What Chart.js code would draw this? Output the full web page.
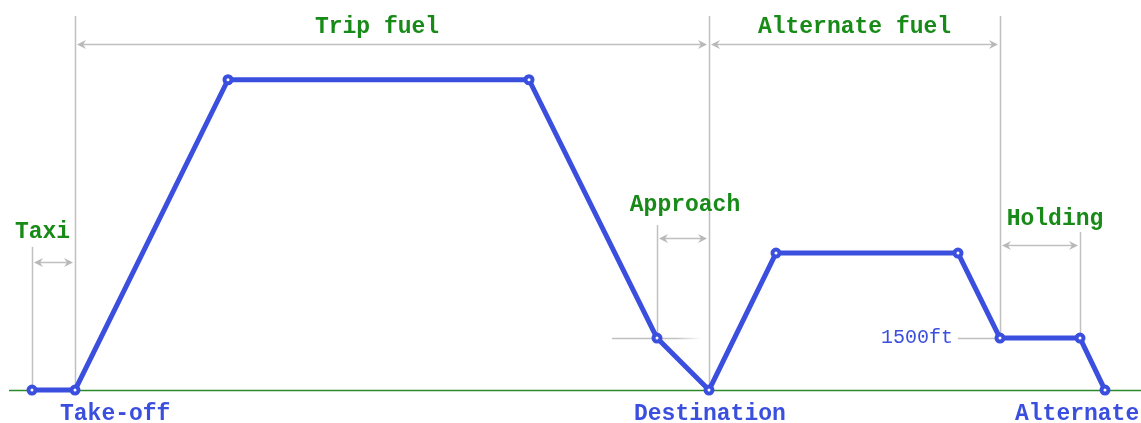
<!DOCTYPE html>
<html>
<head>
<meta charset="utf-8">
<script src="https://cdn.jsdelivr.net/npm/chart.js@4"></script>
<style>
  html, body { margin: 0; padding: 0; background: #fff; }
  #wrap { width: 1141px; height: 423px; position: relative; }
</style>
</head>
<body>
<div id="wrap"><canvas id="profile"></canvas></div>
<script>
// flight profile, distance (nm) vs altitude (ft)
const phases = ['Taxi start', 'Take-off', 'Top of climb', 'Top of descent', 'Approach', 'Destination',
  'Alt top of climb', 'Alt top of descent', 'Holding start', 'Holding end', 'Alternate']
const distNm = [16, 37.5, 114, 264.5, 328.5, 354.5, 388, 479, 500, 540, 552.5]
const altitudeFt = [0, 0, 8950, 8950, 1500, 0, 3950, 3950, 1500, 1500, 0]

// vertical guide lines: point index, top altitude
const guideIdx = [0, 1, 4, 5, 8, 9]
const guideTop = [4130, 10790, 4760, 10790, 10790, 4560]

// spans with arrows: label, from index, to index, arrow altitude
const spanLabels = ['Taxi', 'Trip fuel', 'Approach', 'Alternate fuel', 'Holding']
const spanFrom = [0, 1, 4, 5, 8]
const spanTo = [1, 5, 5, 8, 9]
const spanLevel = [3690, 9980, 4385, 9980, 4185]

// ground labels under the profile
const groundLabels = ['Take-off', 'Destination', 'Alternate']
const groundIdx = [1, 5, 10]

const BLUE = '#3b4fdf'
const GREEN = '#178a17'
const GRAY = '#c0c0c0'

function arrowHead(ctx, x, y, dir) {
  // dir = -1 points left, 1 points right
  ctx.beginPath()
  ctx.moveTo(x, y)
  ctx.lineTo(x - dir * 9, y - 4.5)
  ctx.lineTo(x - dir * 6, y)
  ctx.lineTo(x - dir * 9, y + 4.5)
  ctx.closePath()
  ctx.fill()
}

const extras = {
  id: 'extras',
  beforeDatasetsDraw(chart) {
    const { ctx, scales: { x, y } } = chart
    const px = i => x.getPixelForValue(distNm[i])
    const py = v => y.getPixelForValue(v)
    const y0 = Math.round(py(0)) + 0.5
    ctx.save()

    // ground line
    ctx.strokeStyle = '#2a8a2a'
    ctx.lineWidth = 1.5
    ctx.beginPath()
    ctx.moveTo(9, y0)
    ctx.lineTo(chart.width, y0)
    ctx.stroke()

    // guides
    ctx.strokeStyle = GRAY
    ctx.lineWidth = 1.5
    guideIdx.forEach((idx, k) => {
      const gx = Math.round(px(idx)) + 0.5
      ctx.beginPath()
      ctx.moveTo(gx, py(guideTop[k]))
      ctx.lineTo(gx, py(altitudeFt[idx]))
      ctx.stroke()
    })

    // spans
    ctx.fillStyle = '#b8b8b8'
    spanLabels.forEach((lbl, k) => {
      const x1 = px(spanFrom[k]) + 2
      const x2 = px(spanTo[k]) - 2
      const ly = Math.round(py(spanLevel[k])) + 0.5
      ctx.strokeStyle = GRAY
      ctx.lineWidth = 1.5
      ctx.beginPath()
      ctx.moveTo(x1 + 3, ly)
      ctx.lineTo(x2 - 3, ly)
      ctx.stroke()
      arrowHead(ctx, x1, ly, -1)
      arrowHead(ctx, x2, ly, 1)
    })

    // altitude reference ticks
    const ax = px(4), ay = Math.round(py(altitudeFt[4])) + 0.5
    const grad = ctx.createLinearGradient(ax + 20, 0, ax + 44, 0)
    grad.addColorStop(0, GRAY)
    grad.addColorStop(1, 'rgba(192,192,192,0)')
    ctx.strokeStyle = GRAY
    ctx.beginPath(); ctx.moveTo(ax - 45, ay); ctx.lineTo(ax + 20, ay); ctx.stroke()
    ctx.strokeStyle = grad
    ctx.beginPath(); ctx.moveTo(ax + 20, ay); ctx.lineTo(ax + 44, ay); ctx.stroke()
    const hx = px(8), hy = Math.round(py(altitudeFt[8])) + 0.5
    ctx.strokeStyle = GRAY
    ctx.beginPath(); ctx.moveTo(hx - 42, hy); ctx.lineTo(hx, hy); ctx.stroke()
    ctx.restore()
  },
  afterDatasetsDraw(chart) {
    const { ctx, scales: { x, y } } = chart
    const px = i => x.getPixelForValue(distNm[i])
    const py = v => y.getPixelForValue(v)
    ctx.save()
    ctx.textBaseline = 'middle'
    ctx.textAlign = 'center'
    ctx.font = 'bold 23px "Liberation Mono", "Courier New", monospace'
    ctx.fillStyle = GREEN
    const lift = [30, 17, 33, 17, 26]
    const nudge = [-11, -15, 2, 0, 15]
    spanLabels.forEach((lbl, k) => {
      const cx = (px(spanFrom[k]) + px(spanTo[k])) / 2 + nudge[k]
      ctx.fillText(lbl, cx, py(spanLevel[k]) - lift[k])
    })

    ctx.fillStyle = BLUE
    ctx.textAlign = 'left'
    const shift = [-15, -75, -90]
    groundLabels.forEach((lbl, k) => {
      ctx.fillText(lbl, px(groundIdx[k]) + shift[k], py(0) + 24)
    })

    ctx.font = '20px "Liberation Mono", "Courier New", monospace'
    ctx.textAlign = 'right'
    ctx.fillText('1500ft', px(8) - 47, py(1500))
    ctx.restore()
  }
}

new Chart(document.getElementById('profile'), {
  type: 'line',
  data: {
    labels: phases,
    datasets: [{
      data: distNm.map((d, i) => ({ x: d, y: altitudeFt[i] })),
      borderColor: BLUE,
      borderWidth: 5,
      borderJoinStyle: 'round',
      pointRadius: 3.5,
      pointBorderWidth: 4,
      pointBorderColor: BLUE,
      pointBackgroundColor: '#fff',
      tension: 0,
      clip: false
    }]
  },
  options: {
    responsive: true,
    maintainAspectRatio: false,
    animation: false,
    layout: { padding: 0, autoPadding: false },
    plugins: { legend: { display: false }, tooltip: { enabled: false } },
    scales: {
      x: { type: 'linear', min: 0, max: 570.5, display: false },
      y: { min: -950, max: 11250, display: false }
    }
  },
  plugins: [extras]
})
</script>
</body>
</html>
